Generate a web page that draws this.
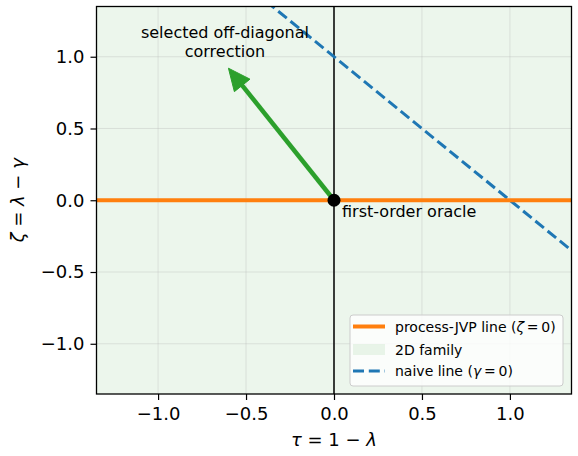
<!DOCTYPE html>
<html>
<head>
<meta charset="utf-8">
<script src="https://cdn.jsdelivr.net/npm/d3@7"></script>
<style>
  body { margin: 0; background: #fff; }
  svg { display: block; font-family: "DejaVu Sans", sans-serif; }
</style>
</head>
<body>
<div id="chart"></div>
<script>
// Данные графика
const xDomain = [-1.35, 1.35];
const yDomain = [-1.35, 1.35];
const xTicks = [-1.0, -0.5, 0.0, 0.5, 1.0];
const yTicks = [-1.0, -0.5, 0.0, 0.5, 1.0];

const processTau = [-1.5, 1.5];
const processZeta = [0, 0];
const naiveTau = [-1.5, 1.5];
const naiveZeta = [2.5, -0.5];
const oraclePoint = [0, 0];
const correctionEnd = [-0.6, 0.92];
const correctionTextPos = [-0.62, 1.13];

const legendLabels = ["process-JVP line", "2D family", "naive line"];

const width = 578;
const height = 456;
const margin = { left: 96.5, right: 6.5, top: 6.5, bottom: 62 };

const svg = d3
  .select("#chart")
  .append("svg")
  .attr("width", width)
  .attr("height", height);

const xScale = d3
  .scaleLinear()
  .domain(xDomain)
  .range([margin.left, width - margin.right]);

const yScale = d3
  .scaleLinear()
  .domain(yDomain)
  .range([height - margin.bottom, margin.top]);

const [x0, x1] = xScale.range();
const [y0, y1] = yScale.range();

svg
  .append("defs")
  .append("clipPath")
  .attr("id", "clip")
  .append("rect")
  .attr("x", x0)
  .attr("y", y1)
  .attr("width", x1 - x0)
  .attr("height", y0 - y1);

const plot = svg.append("g").attr("clip-path", "url(#clip)");

// Заливка 2D семейства
plot
  .append("rect")
  .attr("x", x0)
  .attr("y", y1)
  .attr("width", x1 - x0)
  .attr("height", y0 - y1)
  .attr("fill", "#2ca02c")
  .attr("fill-opacity", 0.09);

// Сетка
const grid = plot.append("g");
xTicks.forEach((t) => {
  grid
    .append("line")
    .attr("x1", xScale(t))
    .attr("x2", xScale(t))
    .attr("y1", y1)
    .attr("y2", y0)
    .attr("stroke", "#b0b0b0")
    .attr("stroke-opacity", 0.3)
    .attr("stroke-width", 1);
});
yTicks.forEach((t) => {
  grid
    .append("line")
    .attr("x1", x0)
    .attr("x2", x1)
    .attr("y1", yScale(t))
    .attr("y2", yScale(t))
    .attr("stroke", "#b0b0b0")
    .attr("stroke-opacity", 0.3)
    .attr("stroke-width", 1);
});

// Вертикальная линия tau = 0
plot
  .append("line")
  .attr("x1", xScale(0))
  .attr("x2", xScale(0))
  .attr("y1", y1)
  .attr("y2", y0)
  .attr("stroke", "#000")
  .attr("stroke-width", 1.5);

const line = d3
  .line()
  .x((d) => xScale(d[0]))
  .y((d) => yScale(d[1]));

plot
  .append("path")
  .datum(naiveTau.map((t, i) => [t, naiveZeta[i]]))
  .attr("fill", "none")
  .attr("stroke", "#1f77b4")
  .attr("stroke-width", 3)
  .attr("stroke-dasharray", "11,4.8")
  .attr("d", line);

plot
  .append("path")
  .datum(processTau.map((t, i) => [t, processZeta[i]]))
  .attr("fill", "none")
  .attr("stroke", "#ff7f0e")
  .attr("stroke-width", 4)
  .attr("d", line);

// Стрелка коррекции
const ax = xScale(oraclePoint[0]);
const ay = yScale(oraclePoint[1]);
const bx = xScale(correctionEnd[0]);
const by = yScale(correctionEnd[1]);
const len = Math.hypot(bx - ax, by - ay);
const ux = (bx - ax) / len;
const uy = (by - ay) / len;
const headLen = 22;
const headHalf = 10;
const baseX = bx - ux * headLen;
const baseY = by - uy * headLen;

svg
  .append("line")
  .attr("x1", ax)
  .attr("y1", ay)
  .attr("x2", baseX + ux * 2)
  .attr("y2", baseY + uy * 2)
  .attr("stroke", "#2ca02c")
  .attr("stroke-width", 4.5);

svg
  .append("path")
  .attr(
    "d",
    `M${bx},${by}L${baseX - uy * headHalf},${baseY + ux * headHalf}L${
      baseX + uy * headHalf
    },${baseY - ux * headHalf}Z`
  )
  .attr("fill", "#2ca02c")
  .attr("stroke", "#2ca02c")
  .attr("stroke-width", 1);

// Точка оракула
svg
  .append("circle")
  .attr("cx", ax)
  .attr("cy", ay)
  .attr("r", 6.5)
  .attr("fill", "#000");

svg
  .append("text")
  .attr("x", ax + 8)
  .attr("y", ay + 17)
  .attr("font-size", "16px")
  .attr("fill", "#000")
  .text("first-order oracle");

const corrText = svg
  .append("text")
  .attr("x", xScale(correctionTextPos[0]))
  .attr("y", yScale(correctionTextPos[1]))
  .attr("text-anchor", "middle")
  .attr("font-size", "16px")
  .attr("fill", "#000");
corrText.append("tspan").attr("x", xScale(correctionTextPos[0])).attr("dy", 0).text("selected off-diagonal");
corrText.append("tspan").attr("x", xScale(correctionTextPos[0])).attr("dy", 18.5).text("correction");

// Оси
const xAxis = svg
  .append("g")
  .attr("transform", `translate(0, ${y0})`)
  .call(
    d3
      .axisBottom(xScale)
      .tickValues(xTicks)
      .tickFormat((d) => d3.format(".1f")(d).replace("-", "\u2212"))
      .tickSize(6)
      .tickPadding(7)
  );

const yAxis = svg
  .append("g")
  .attr("transform", `translate(${x0}, 0)`)
  .call(
    d3
      .axisLeft(yScale)
      .tickValues(yTicks)
      .tickFormat((d) => d3.format(".1f")(d).replace("-", "\u2212"))
      .tickSize(6)
      .tickPadding(6)
  );

[xAxis, yAxis].forEach((a) => {
  a.select(".domain").remove();
  a.selectAll(".tick line").attr("stroke", "#000").attr("stroke-width", 1.2);
  a.selectAll(".tick text")
    .attr("font-size", "18px")
    .attr("font-family", "DejaVu Sans")
    .attr("fill", "#000");
});

// Рамка
svg
  .append("rect")
  .attr("x", x0)
  .attr("y", y1)
  .attr("width", x1 - x0)
  .attr("height", y0 - y1)
  .attr("fill", "none")
  .attr("stroke", "#000")
  .attr("stroke-width", 1.3);

// Подписи осей
const xLabel = svg
  .append("text")
  .attr("x", (x0 + x1) / 2)
  .attr("y", 446)
  .attr("text-anchor", "middle")
  .attr("font-size", "18px")
  .attr("fill", "#000");
xLabel.append("tspan").attr("font-style", "italic").text("τ");
xLabel.append("tspan").text(" = 1 \u2212 ");
xLabel.append("tspan").attr("font-style", "italic").text("λ");

const yLabel = svg
  .append("text")
  .attr("transform", `translate(24, ${(y0 + y1) / 2}) rotate(-90)`)
  .attr("text-anchor", "middle")
  .attr("font-size", "18px")
  .attr("fill", "#000");
yLabel.append("tspan").attr("font-style", "italic").text("ζ");
yLabel.append("tspan").text(" = ");
yLabel.append("tspan").attr("font-style", "italic").text("λ");
yLabel.append("tspan").text(" \u2212 ");
yLabel.append("tspan").attr("font-style", "italic").text("γ");

// Легенда
const legend = svg.append("g").attr("transform", "translate(350, 315)");
legend
  .append("rect")
  .attr("width", 213)
  .attr("height", 71)
  .attr("rx", 3)
  .attr("fill", "#fff")
  .attr("fill-opacity", 0.8)
  .attr("stroke", "#cccccc")
  .attr("stroke-width", 1);

const rowY = [11.5, 35, 56];

legend
  .append("line")
  .attr("x1", 3)
  .attr("x2", 35)
  .attr("y1", rowY[0])
  .attr("y2", rowY[0])
  .attr("stroke", "#ff7f0e")
  .attr("stroke-width", 4);

legend
  .append("rect")
  .attr("x", 3)
  .attr("y", rowY[1] - 6)
  .attr("width", 32)
  .attr("height", 11)
  .attr("fill", "#2ca02c")
  .attr("fill-opacity", 0.09);

legend
  .append("line")
  .attr("x1", 3)
  .attr("x2", 35)
  .attr("y1", rowY[2])
  .attr("y2", rowY[2])
  .attr("stroke", "#1f77b4")
  .attr("stroke-width", 3)
  .attr("stroke-dasharray", "11,4.8");

const lt0 = legend.append("text").attr("x", 45).attr("y", rowY[0] + 5).attr("font-size", "14px");
lt0.append("tspan").text(legendLabels[0] + " (");
lt0.append("tspan").attr("font-style", "italic").text("ζ");
lt0.append("tspan").text("\u2009=\u20090)");

legend.append("text").attr("x", 45).attr("y", rowY[1] + 5).attr("font-size", "14px").text(legendLabels[1]);

const lt2 = legend.append("text").attr("x", 45).attr("y", rowY[2] + 5).attr("font-size", "14px");
lt2.append("tspan").text(legendLabels[2] + " (");
lt2.append("tspan").attr("font-style", "italic").text("γ");
lt2.append("tspan").text("\u2009=\u20090)");
</script>
</body>
</html>
